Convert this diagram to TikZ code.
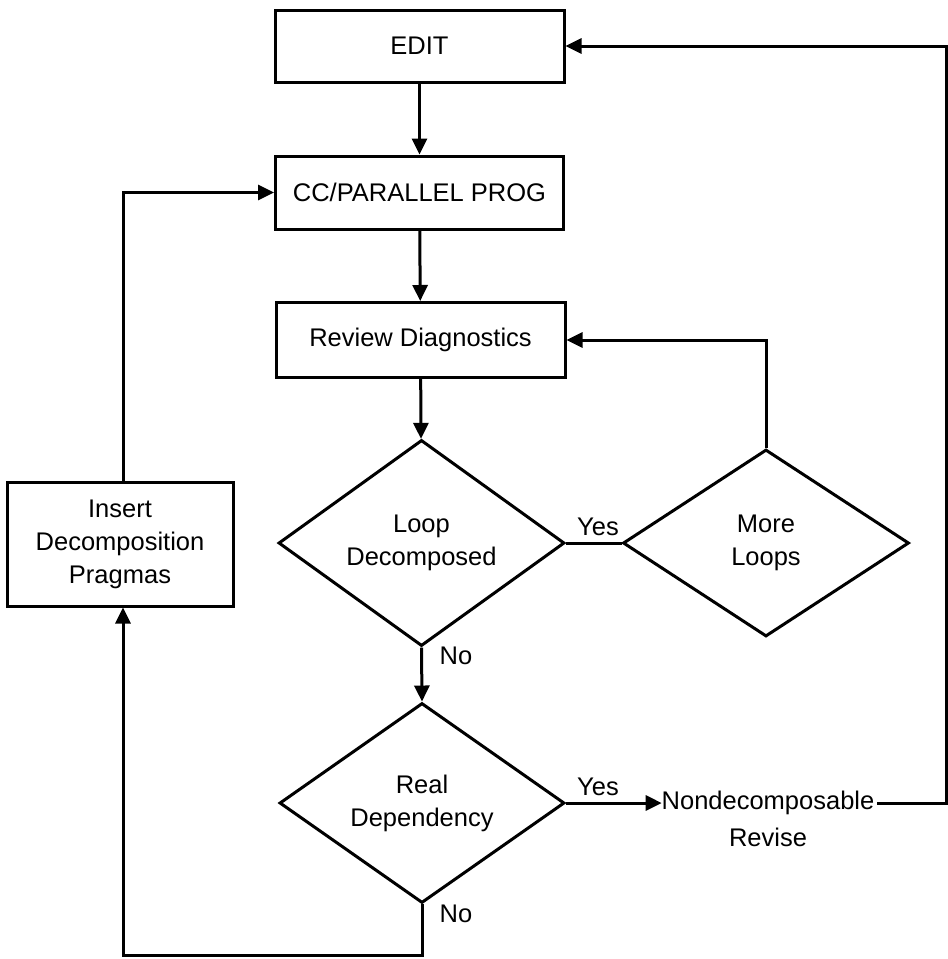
\documentclass[tikz,border=0pt]{standalone}
\usepackage{fontspec}
\setmainfont{Liberation Sans}
\usetikzlibrary{shapes.geometric,arrows.meta}
\begin{document}
\begin{tikzpicture}[x=0.5pt,y=-0.5pt,
  font=\fontsize{12.75pt}{16.5pt}\selectfont,
  procbox/.style={draw,line width=1.5pt,rectangle,inner sep=0pt,align=center},
  decision/.style={draw,line width=1.5pt,diamond,inner sep=0pt,align=center},
  lbl/.style={inner sep=1pt},
  conn/.style={draw,line width=1.5pt},
  flow/.style={conn,-{Triangle[length=8pt,width=7.5pt]}},
  line join=miter]
\useasboundingbox (0,0) rectangle (948,959);

% process boxes
\node[procbox,minimum width=144.5pt,minimum height=36pt] (edit) at (419.5,46) {EDIT};
\node[procbox,minimum width=144pt,minimum height=36.5pt] (cc) at (419.5,192.5) {CC/PARALLEL PROG};
\node[procbox,minimum width=144.5pt,minimum height=37.5pt] (rev) at (420.5,340) {Review Diagnostics};
\node[procbox,minimum width=113pt,minimum height=62pt] (ins) at (120,544) {Insert\\Decomposition\\Pragmas};

% decisions
\node[decision,minimum width=143pt,minimum height=92pt] (loop) at (421.5,543) {Loop\\Decomposed};
\node[decision,minimum width=143pt,minimum height=93.5pt] (more) at (766,543) {More\\Loops};
\node[decision,minimum width=142.5pt,minimum height=94.5pt] (real) at (422,803) {Real\\Dependency};

% terminal text
\node[inner sep=0pt,outer sep=0pt] (nd) at (768,803) {Nondecomposable};
\node[lbl] (rv) at (768,837) {Revise};

% labels
\node[lbl] (yes1) at (598,527) {Yes};
\node[lbl] (no1) at (456,656) {No};
\node[lbl] (yes2) at (598,787) {Yes};
\node[lbl] (no2) at (456,914) {No};

% routing points
\coordinate (bl) at (123,955);
\coordinate (re) at (946,803);

% connectors
\draw[flow] (edit) -- (cc);
\draw[flow] (cc) -- (rev);
\draw[flow] (rev) -- (loop);
\draw[conn] (loop.east) -- (more.west);
\draw[flow] (more.north) |- (rev.east);
\draw[flow] (loop.south) -- (real.north);
\draw[flow] (real.east) -- (nd.west);
\draw[flow] ([xshift=1.5pt]nd.east) -- (re) |- (edit.east);
\draw[flow] (real.south) |- (bl) -- (ins.south -| bl);
\draw[flow] (ins.north -| bl) |- (cc.west);
\end{tikzpicture}
\end{document}
